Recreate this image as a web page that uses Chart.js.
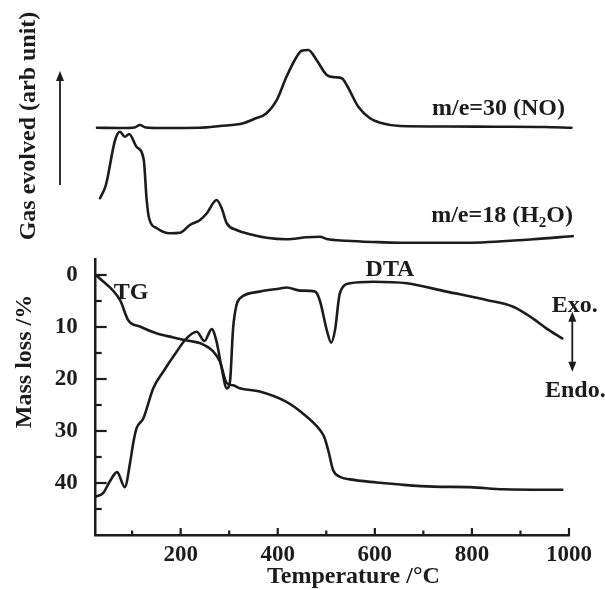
<!DOCTYPE html>
<html><head><meta charset="utf-8">
<script src="https://cdn.jsdelivr.net/npm/chart.js@4.4.1/dist/chart.umd.min.js"></script>
<style>
html,body{margin:0;padding:0;background:#fff;}
#wrap{position:relative;width:605px;height:590px;overflow:hidden;}
canvas{position:absolute;left:0;top:0;}
</style></head><body>
<div id="wrap"><canvas id="cTop" width="605" height="590"></canvas><canvas id="cBot" width="605" height="590"></canvas></div>
<script>
// ---- data (temperature in °C) ----
const noTemp = [27, 80, 105, 116, 128, 160, 240, 281, 329, 350, 377, 398, 418, 439, 449, 463, 480, 501, 518, 532, 542, 566, 590, 611, 652, 750, 850, 950, 1005];
const noSignal = [48.9, 48.8, 49.0, 50.0, 49.0, 48.8, 48.9, 49.6, 50.7, 52.3, 54.7, 60, 69.3, 77.3, 79.7, 80, 76, 70, 69.1, 68.7, 66, 57.3, 52.7, 50.9, 49.6, 49.4, 49.3, 49.2, 48.9];
const h2oTemp = [34, 46, 65, 75, 85, 94, 109, 124, 130, 135, 151, 178, 199, 219, 240, 254, 274, 284.5, 295, 315, 343, 377, 418, 460, 487, 501, 542, 597, 652, 789, 926, 1010];
const h2oSignal = [20.7, 26, 44, 47.3, 45.3, 46.4, 41.3, 36, 20, 12.7, 8.7, 6.7, 6.9, 10, 12, 14.7, 20, 16.7, 10.7, 8, 6.3, 4.9, 4.3, 5.1, 5.3, 4.4, 3.7, 3.2, 2.9, 2.9, 4.3, 5.6];
const tgTemp = [27, 75, 92, 116, 150, 185, 219, 240, 267, 281, 295, 308, 322, 363, 418, 450, 487, 496, 504, 514, 528, 549, 604, 652, 720, 796, 865, 986];
const tgLoss = [0.1, 4.8, 8.7, 9.9, 11.2, 12.0, 12.7, 13.1, 14.7, 16.7, 20.8, 21.2, 21.8, 22.4, 24.4, 26.5, 29.8, 31.2, 33.7, 37.5, 38.8, 39.3, 39.9, 40.3, 40.7, 40.8, 41.2, 41.3];
const dtaTemp = [25, 40.6, 54, 69, 85, 96, 102, 109, 123, 143.6, 164, 192, 212, 233, 249, 264, 274, 284.5, 295, 301.6, 308, 315, 322, 363, 405, 418, 446, 477, 487, 501, 510, 518, 528, 549, 597, 666, 748, 830, 885, 920, 954, 986];
const dtaSignal = [42.6, 41.9, 39.7, 37.9, 40.8, 36, 32.5, 29.5, 27.6, 21.8, 18.6, 14.7, 12.2, 10.9, 12.7, 10.4, 12.8, 17.9, 21.8, 20.5, 10.3, 5.8, 4.5, 3.2, 2.6, 2.4, 3.0, 3.2, 5.0, 10.6, 13.0, 10.6, 3.5, 1.6, 1.3, 1.6, 3.2, 4.8, 6.1, 8.0, 10.3, 12.2];
const xMajorTicks = [200, 400, 600, 800, 1000];
const xMinorTicks = [100, 300, 500, 700, 900];
const yMajorTicks = [0, 10, 20, 30, 40];
const yMinorTicks = [5, 15, 25, 35, 45];

const INK = '#1c1c1c';
const SERIF = '"Liberation Serif", "Times New Roman", serif';
const pts = (xs, ys) => xs.map((x, i) => ({x, y: ys[i]}));
const lineDs = (label, data) => ({label, data, borderColor: INK, borderWidth: 2.6, pointRadius: 0,
  fill: false, cubicInterpolationMode: 'monotone', borderJoinStyle: 'round', borderCapStyle: 'round'});

function text(ctx, s, x, y, align, size) {
  ctx.font = 'bold ' + (size || 24) + 'px ' + SERIF;
  ctx.textAlign = align || 'left';
  ctx.textBaseline = 'alphabetic';
  ctx.fillText(s, x, y);
}
function arrowHead(ctx, x, y, dir) {
  ctx.beginPath();
  ctx.moveTo(x, y);
  ctx.lineTo(x - 4, y - dir * 10);
  ctx.lineTo(x + 4, y - dir * 10);
  ctx.closePath();
  ctx.fill();
}

// ---- top chart: evolved gas ----
const topDecor = {
  id: 'topDecor',
  afterDraw(chart) {
    const ctx = chart.ctx;
    ctx.save();
    ctx.fillStyle = INK; ctx.strokeStyle = INK;
    ctx.save();
    ctx.translate(34.5, 126);
    ctx.rotate(-Math.PI / 2);
    text(ctx, 'Gas evolved (arb unit)', 0, 0, 'center');
    ctx.restore();
    ctx.lineWidth = 1.8;
    ctx.beginPath(); ctx.moveTo(60, 185); ctx.lineTo(60, 80); ctx.stroke();
    arrowHead(ctx, 60, 71, -1);
    text(ctx, 'm/e=30 (NO)', 565, 115, 'right');
    const p1 = 'm/e=18 (H', p3 = 'O)';
    ctx.font = 'bold 24px ' + SERIF; const w1 = ctx.measureText(p1).width, w3 = ctx.measureText(p3).width;
    ctx.font = 'bold 15px ' + SERIF; const w2 = ctx.measureText('2').width;
    const sx = 573 - (w1 + w2 + w3);
    text(ctx, p1, sx, 221.7, 'left');
    text(ctx, '2', sx + w1, 226.5, 'left', 15);
    text(ctx, p3, sx + w1 + w2, 221.7, 'left');
    ctx.restore();
  }
};

new Chart(document.getElementById('cTop'), {
  type: 'line',
  data: { datasets: [lineDs('m/e=30 (NO)', pts(noTemp, noSignal)), lineDs('m/e=18 (H2O)', pts(h2oTemp, h2oSignal))] },
  options: {
    responsive: false, animation: false, events: [],
    layout: { padding: { left: 95.7, right: 31.14, top: 0, bottom: 340 } },
    plugins: { legend: { display: false }, tooltip: { enabled: false } },
    scales: {
      x: { type: 'linear', min: 25, max: 1010, display: false },
      y: { type: 'linear', min: 0, max: 100, display: false }
    }
  },
  plugins: [topDecor]
});

// ---- bottom chart: TG / DTA ----
const botDecor = {
  id: 'botDecor',
  afterDraw(chart) {
    const {ctx, chartArea: a, scales: {x, y}} = chart;
    ctx.save();
    ctx.strokeStyle = INK; ctx.fillStyle = INK; ctx.lineWidth = 2.2;
    const seg = (x1, y1, x2, y2) => { ctx.beginPath(); ctx.moveTo(x1, y1); ctx.lineTo(x2, y2); ctx.stroke(); };
    xMajorTicks.forEach(v => { const p = x.getPixelForValue(v); seg(p, a.bottom, p, a.bottom - 7); });
    xMinorTicks.forEach(v => { const p = x.getPixelForValue(v); seg(p, a.bottom, p, a.bottom - 4.5); });
    yMajorTicks.forEach(v => { const p = y.getPixelForValue(v); seg(a.left, p, a.left + 11, p); });
    yMinorTicks.forEach(v => { const p = y.getPixelForValue(v); seg(a.left, p, a.left + 6, p); });
    text(ctx, 'Temperature /°C', 353.4, 583, 'center');
    ctx.save();
    ctx.translate(31, 361.5);
    ctx.rotate(-Math.PI / 2);
    text(ctx, 'Mass loss /%', 0, 0, 'center');
    ctx.restore();
    text(ctx, 'TG', 131, 299, 'center');
    text(ctx, 'DTA', 390, 276, 'center');
    text(ctx, 'Exo.', 551.7, 311.7, 'left');
    text(ctx, 'Endo.', 545, 396.7, 'left');
    ctx.lineWidth = 1.8;
    seg(572.3, 320, 572.3, 363);
    arrowHead(ctx, 572.3, 311.7, -1);
    arrowHead(ctx, 572.3, 371.7, 1);
    ctx.restore();
  }
};

new Chart(document.getElementById('cBot'), {
  type: 'line',
  data: { datasets: [lineDs('TG', pts(tgTemp, tgLoss)), lineDs('DTA', pts(dtaTemp, dtaSignal))] },
  options: {
    responsive: false, animation: false, events: [],
    layout: { padding: { left: 0, right: 36, top: 259.4, bottom: 0 } },
    plugins: { legend: { display: false }, tooltip: { enabled: false } },
    scales: {
      x: {
        type: 'linear', min: 25, max: 1000,
        afterBuildTicks: s => { s.ticks = xMajorTicks.map(v => ({value: v})); },
        afterFit: s => { s.height = 55; },
        grid: { display: false },
        border: { display: true, color: INK, width: 2.5 },
        ticks: { color: INK, padding: -1.5, maxRotation: 0, autoSkip: false,
                 callback: v => String(v),
                 font: { family: SERIF, size: 23, weight: 'bold' } }
      },
      y: {
        type: 'linear', min: -3, max: 50, reverse: true,
        afterBuildTicks: s => { s.ticks = yMajorTicks.map(v => ({value: v})); },
        afterFit: s => { s.width = 95.7; },
        grid: { display: false },
        border: { display: true, color: INK, width: 2.5 },
        ticks: { color: INK, padding: 10, autoSkip: false,
                 callback: v => String(v),
                 font: { family: SERIF, size: 23, weight: 'bold' } }
      }
    }
  },
  plugins: [botDecor]
});
</script>
</body></html>
